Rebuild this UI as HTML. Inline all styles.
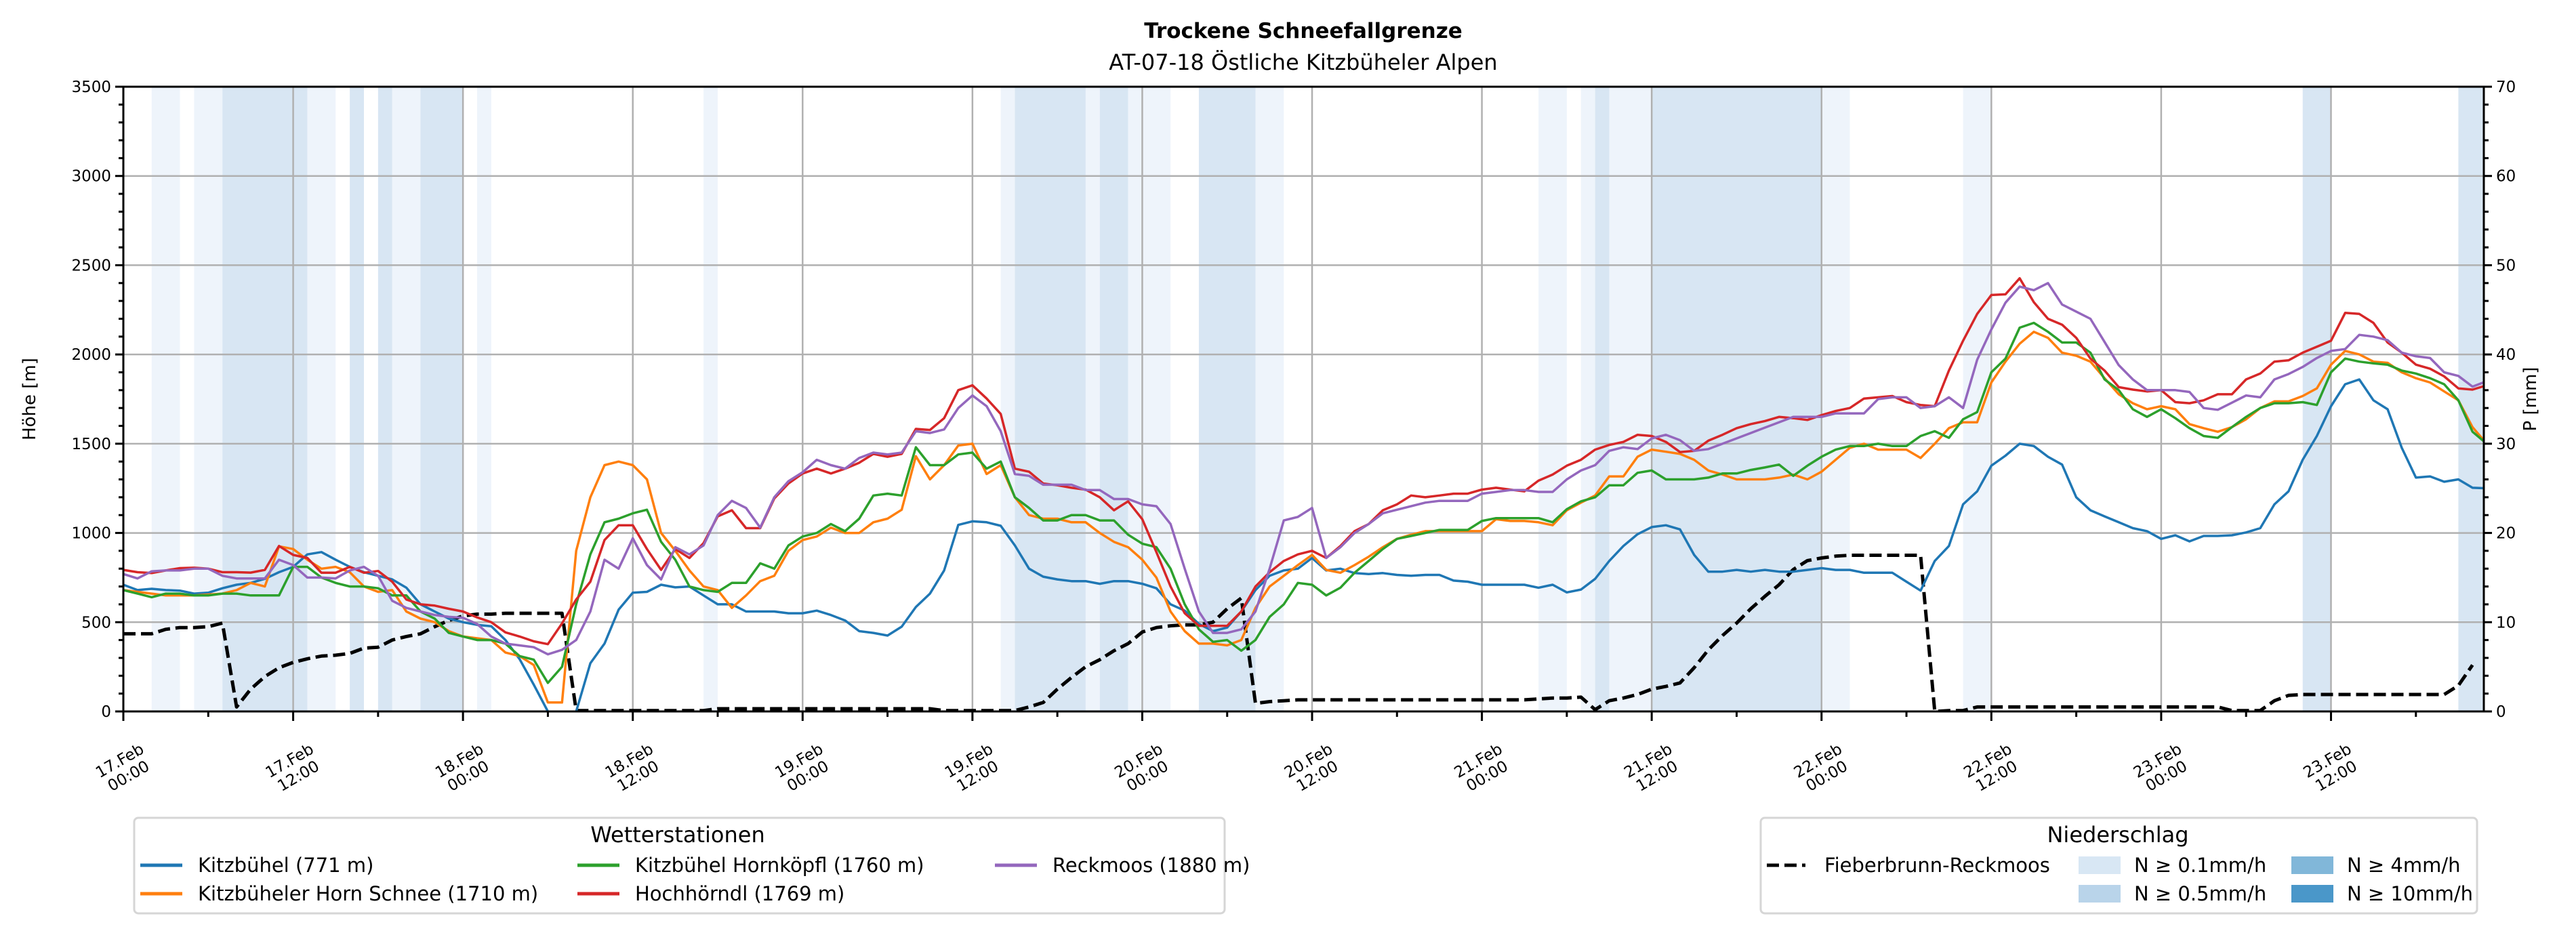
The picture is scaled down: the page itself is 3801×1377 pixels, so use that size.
<!DOCTYPE html>
<html><head><meta charset="utf-8">
<style>
html,body{margin:0;padding:0;background:#fff;}
svg{display:block;font-family:"DejaVu Sans","Liberation Sans",sans-serif;}
</style></head>
<body>
<svg id="chart" width="3801" height="1377" viewBox="0 0 3801 1377" xmlns="http://www.w3.org/2000/svg">
<text x="1923" y="56" font-size="31" font-weight="bold" text-anchor="middle">Trockene Schneefallgrenze</text>
<text x="1923" y="103" font-size="32" text-anchor="middle">AT-07-18 Östliche Kitzbüheler Alpen</text>
<g id="bands"></g>
<g id="grid"></g>
<g id="series"></g>
<g id="axes"></g>
<text transform="translate(52,589) rotate(-90)" font-size="26" text-anchor="middle">Höhe [m]</text>
<text transform="translate(3742,589) rotate(-90)" font-size="26" text-anchor="middle">P [mm]</text>

<g>
<rect x="198" y="1207" width="1609" height="141" rx="6" fill="#fff" stroke="#d6d6d6" stroke-width="3"/>
<text x="1000" y="1243" font-size="32" text-anchor="middle">Wetterstationen</text>
<g><line x1="207" y1="1277" x2="269" y2="1277" stroke="#1f77b4" stroke-width="5"/><text x="292" y="1287" font-size="29">Kitzbühel (771 m)</text></g>
<g><line x1="207" y1="1319" x2="269" y2="1319" stroke="#ff7f0e" stroke-width="5"/><text x="292" y="1329" font-size="29">Kitzbüheler Horn Schnee (1710 m)</text></g>
<g><line x1="852" y1="1277" x2="914" y2="1277" stroke="#2ca02c" stroke-width="5"/><text x="937" y="1287" font-size="29">Kitzbühel Hornköpfl (1760 m)</text></g>
<g><line x1="852" y1="1319" x2="914" y2="1319" stroke="#d62728" stroke-width="5"/><text x="937" y="1329" font-size="29">Hochhörndl (1769 m)</text></g>
<g><line x1="1468" y1="1277" x2="1530" y2="1277" stroke="#9467bd" stroke-width="5"/><text x="1553" y="1287" font-size="29">Reckmoos (1880 m)</text></g>
</g>

<g>
<rect x="2598" y="1207" width="1057" height="141" rx="6" fill="#fff" stroke="#d6d6d6" stroke-width="3"/>
<text x="3125" y="1243" font-size="32" text-anchor="middle">Niederschlag</text>
<g><line x1="2607" y1="1277" x2="2664" y2="1277" stroke="#000" stroke-width="5" stroke-dasharray="18,8"/><text x="2692" y="1287" font-size="29">Fieberbrunn-Reckmoos</text></g>
<g><rect x="3067" y="1264" width="62" height="26" fill="#d8e7f4"/><text x="3149" y="1287" font-size="29">N ≥ 0.1mm/h</text></g>
<g><rect x="3067" y="1306" width="62" height="26" fill="#b9d4ea"/><text x="3149" y="1329" font-size="29">N ≥ 0.5mm/h</text></g>
<g><rect x="3381" y="1264" width="62" height="26" fill="#81b7d9"/><text x="3463" y="1287" font-size="29">N ≥ 4mm/h</text></g>
<g><rect x="3381" y="1306" width="62" height="26" fill="#4a97c9"/><text x="3463" y="1329" font-size="29">N ≥ 10mm/h</text></g>
</g>
</svg>
<script>
const kitzbuehel=[710,680,687,680,677,660,665,690,710,720,743,780,810,880,893,850,810,780,760,740,693,600,560,520,500,485,477,400,293,150,0,null,0,270,380,570,665,670,710,695,700,650,600,600,560,560,560,550,550,565,540,510,450,440,425,475,585,660,790,1045,1065,1060,1040,930,800,755,740,730,730,715,730,730,715,690,600,565,490,450,470,560,680,760,790,800,860,790,800,775,770,775,765,760,765,765,733,727,710,710,710,710,693,710,667,683,743,843,927,993,1033,1043,1020,877,783,783,793,783,793,783,783,793,803,793,793,777,777,777,727,677,843,927,1160,1233,1377,1433,1500,1487,1427,1383,1200,1127,1093,1060,1027,1010,967,987,953,983,983,987,1003,1027,1160,1233,1410,1543,1710,1833,1860,1743,1693,1477,1310,1317,1287,1300,1253,1250];
const hornSchnee=[680,670,660,650,650,650,655,660,680,720,700,925,910,850,800,810,780,700,670,680,560,520,500,450,420,410,400,330,310,260,50,50,900,1200,1380,1400,1380,1300,1000,900,790,700,680,580,650,730,760,900,960,980,1030,1000,1000,1060,1080,1130,1430,1300,1380,1490,1500,1330,1380,1200,1100,1080,1080,1060,1060,1000,950,920,850,750,560,450,380,380,370,400,580,700,760,820,877,793,777,820,867,920,967,990,1010,1010,1010,1010,1010,1077,1067,1067,1060,1043,1127,1170,1210,1317,1317,1427,1467,1455,1443,1410,1350,1327,1300,1300,1300,1310,1327,1300,1343,1410,1477,1500,1467,1467,1467,1420,1500,1587,1620,1620,1843,1960,2060,2127,2093,2010,1993,1960,1867,1777,1727,1693,1710,1693,1610,1587,1567,1593,1637,1700,1737,1737,1767,1810,1943,2020,2000,1960,1953,1900,1867,1843,1793,1743,1593,1500];
const hornkoepfl=[680,660,640,660,660,650,650,660,660,650,650,650,810,810,750,720,700,700,690,650,650,560,520,440,420,400,400,380,310,290,160,250,600,880,1060,1080,1110,1130,950,850,700,680,670,720,720,830,800,930,980,1000,1050,1010,1080,1210,1220,1210,1480,1380,1380,1440,1450,1360,1400,1200,1140,1070,1070,1100,1100,1070,1070,990,940,920,800,600,460,390,400,340,400,530,600,720,710,650,693,777,843,910,967,983,1000,1017,1017,1017,1067,1083,1083,1083,1083,1060,1133,1177,1200,1267,1267,1337,1350,1300,1300,1300,1310,1333,1333,1353,1367,1383,1320,1377,1427,1467,1487,1487,1500,1487,1487,1543,1570,1533,1637,1677,1900,1977,2150,2177,2127,2067,2067,2010,1860,1800,1693,1650,1693,1643,1587,1543,1533,1593,1650,1700,1727,1727,1733,1717,1900,1977,1960,1950,1943,1910,1893,1867,1833,1743,1567,1500];
const hochhoerndl=[793,780,775,790,803,805,800,780,780,778,793,927,877,860,777,777,810,777,787,727,627,600,593,575,560,527,500,443,420,393,377,493,627,727,960,1043,1043,910,793,910,860,943,1093,1127,1027,1027,1193,1277,1333,1360,1333,1360,1393,1443,1427,1443,1583,1577,1643,1800,1827,1753,1667,1360,1343,1277,1267,1253,1243,1200,1127,1177,1077,893,700,550,480,480,480,560,700,780,843,880,900,860,927,1010,1050,1127,1160,1210,1200,1210,1220,1220,1243,1253,1243,1233,1293,1327,1377,1410,1467,1493,1510,1550,1543,1510,1453,1460,1517,1550,1587,1610,1627,1650,1643,1633,1660,1683,1700,1753,1760,1767,1733,1717,1710,1910,2077,2227,2333,2337,2427,2293,2200,2167,2093,1977,1910,1817,1803,1793,1800,1733,1727,1743,1777,1777,1860,1893,1960,1967,2010,2043,2077,2233,2227,2177,2067,2010,1943,1920,1877,1810,1803,1827];
const reckmoos=[770,745,785,790,790,800,800,760,745,745,745,850,820,750,750,745,790,810,760,620,580,560,540,530,525,490,420,380,370,360,320,345,400,560,850,800,970,820,740,920,880,930,1100,1180,1140,1030,1200,1290,1340,1410,1380,1360,1420,1450,1440,1450,1570,1560,1580,1700,1770,1710,1570,1330,1320,1270,1270,1270,1240,1240,1190,1190,1160,1150,1050,800,560,440,440,460,560,800,1070,1090,1140,860,920,1000,1050,1110,1130,1150,1170,1180,1180,1180,1220,1230,1240,1240,1230,1230,1300,1350,1380,1460,1480,1470,1530,1550,1520,1460,1470,1500,1530,1560,1590,1620,1650,1650,1650,1670,1670,1670,1750,1760,1760,1700,1710,1760,1700,1970,2140,2290,2380,2360,2400,2280,2240,2200,2070,1940,1860,1800,1800,1800,1790,1700,1690,1730,1770,1760,1860,1890,1930,1980,2020,2030,2110,2100,2080,2010,1990,1980,1900,1880,1820,1850];
const precipMM=[8.7,8.7,8.7,9.2,9.4,9.4,9.5,9.9,0.5,2.5,3.9,4.9,5.5,5.9,6.2,6.3,6.5,7.1,7.2,8,8.4,8.7,9.5,10.2,10.7,10.9,10.9,11,11,11,11,11,0.1,0.1,0.1,0.1,0.1,0.1,0.1,0.1,0.1,0.1,0.3,0.3,0.3,0.3,0.3,0.3,0.3,0.3,0.3,0.3,0.3,0.3,0.3,0.3,0.3,0.3,0.1,0.1,0.1,0.1,0.1,0.1,0.5,1.0,2.5,3.8,5.0,5.8,6.8,7.6,8.9,9.4,9.6,9.7,9.7,10.0,11.5,12.7,0.9,1.1,1.2,1.3,1.3,1.3,1.3,1.3,1.3,1.3,1.3,1.3,1.3,1.3,1.3,1.3,1.3,1.3,1.3,1.3,1.4,1.5,1.5,1.6,0.2,1.2,1.5,1.9,2.5,2.8,3.2,4.9,6.9,8.5,9.9,11.5,12.9,14.2,15.9,16.9,17.2,17.4,17.5,17.5,17.5,17.5,17.5,17.5,0,0.1,0.1,0.5,0.5,0.5,0.5,0.5,0.5,0.5,0.5,0.5,0.5,0.5,0.5,0.5,0.5,0.5,0.5,0.5,0.5,0.1,0.1,0.1,1.2,1.8,1.9,1.9,1.9,1.9,1.9,1.9,1.9,1.9,1.9,1.9,1.9,2.9,5.2];
const bandStart=[2,5,7,13,16,18,19,21,25,41,62,63,68,69,71,76,80,100,103,104,105,108,120,130,154,165];
const bandEnd=[4,7,13,15,17,19,21,24,26,42,63,68,69,71,74,80,82,102,104,105,108,120,122,132,156,167];
const bandLevel=[1,1,2,1,2,2,1,2,1,1,1,2,1,2,1,2,1,1,1,2,1,2,1,1,2,2];
const xTickDays=["17.Feb","17.Feb","18.Feb","18.Feb","19.Feb","19.Feb","20.Feb","20.Feb","21.Feb","21.Feb","22.Feb","22.Feb","23.Feb","23.Feb"];
const xTickTimes=["00:00","12:00","00:00","12:00","00:00","12:00","00:00","12:00","00:00","12:00","00:00","12:00","00:00","12:00"];
const yTicks=[0,500,1000,1500,2000,2500,3000,3500];
const y2Ticks=[0,10,20,30,40,50,60,70];

const NS="http://www.w3.org/2000/svg";
const L=182,R=3665,T=128,B=1050,XMAX=166.8,YMAX=3500,PMAX=70;
const xs=h=>L+(R-L)*h/XMAX;
const ys=v=>B-(B-T)*v/YMAX;
const yp=p=>B-(B-T)*p/PMAX;
function mk(tag,attrs,parent){const e=document.createElementNS(NS,tag);for(const k in attrs)e.setAttribute(k,attrs[k]);parent.appendChild(e);return e;}
const gB=document.getElementById('bands'),gG=document.getElementById('grid'),gS=document.getElementById('series'),gA=document.getElementById('axes');
const bandColors={1:"#eef4fb",2:"#d8e6f3"};
for(let i=0;i<bandStart.length;i++){
  const x1=xs(bandStart[i]),x2=Math.min(xs(bandEnd[i]),R);
  const r=mk('rect',{x:x1,y:T,width:x2-x1,height:B-T,fill:bandColors[bandLevel[i]]},gB);
  
  
}
for(let i=0;i<xTickDays.length;i++){
  const x=xs(i*12);
  const l=mk('line',{x1:x,y1:T,x2:x,y2:B,stroke:"#b0b0b0","stroke-width":2.5},gG);
  
  
}
yTicks.forEach(v=>{
  const y=ys(v);
  const l=mk('line',{x1:L,y1:y,x2:R,y2:y,stroke:"#b0b0b0","stroke-width":2.5},gG);
  
  
});
function drawLine(vals,color,name,dash,scale){
  let d="",pen=false;
  vals.forEach((v,i)=>{
    if(v===null){pen=false;return;}
    const x=xs(i),y=scale(v);
    d+=(pen?"L":"M")+x.toFixed(1)+","+y.toFixed(1);pen=true;
  });
  const p=mk('path',{d:d,fill:"none",stroke:color,"stroke-width":dash?5:3.5,"stroke-linejoin":"round"},gS);
  if(dash)p.setAttribute('stroke-dasharray',dash);
  
  
}
const clip=mk('clipPath',{id:'plotclip'},document.getElementById('chart'));
mk('rect',{x:L,y:T-5,width:R-L,height:B-T+5},clip);
gS.setAttribute('clip-path','url(#plotclip)');
gB.setAttribute('clip-path','url(#plotclip)');
drawLine(precipMM,"#000","precip-line-fieberbrunn","18,8",yp);
drawLine(kitzbuehel,"#1f77b4","line-kitzbuehel",null,ys);
drawLine(hornSchnee,"#ff7f0e","line-horn-schnee",null,ys);
drawLine(hornkoepfl,"#2ca02c","line-hornkoepfl",null,ys);
drawLine(hochhoerndl,"#d62728","line-hochhoerndl",null,ys);
drawLine(reckmoos,"#9467bd","line-reckmoos",null,ys);
mk('rect',{x:L,y:T,width:R-L,height:B-T,fill:"none",stroke:"#000","stroke-width":3},gA);
for(let h=0;h<=XMAX;h+=6){
  const x=xs(h),major=h%12===0;
  mk('line',{x1:x,y1:B,x2:x,y2:B+(major?14:8),stroke:"#000","stroke-width":3},gA);
}
for(let i=0;i<xTickDays.length;i++){
  const x=xs(i*12);
  const g=mk('g',{transform:`translate(${x},1132) rotate(-30)`},gA);
  
  
  mk('text',{x:0,y:-3,"font-size":23,"text-anchor":"middle"},g).textContent=xTickDays[i];
  mk('text',{x:0,y:23,"font-size":23,"text-anchor":"middle"},g).textContent=xTickTimes[i];
}
for(let v=0;v<=YMAX;v+=100){
  const y=ys(v),major=v%500===0;
  mk('line',{x1:L,y1:y,x2:L-(major?12:7),y2:y,stroke:"#000","stroke-width":3},gA);
}
yTicks.forEach(v=>{
  const t=mk('text',{x:L-18,y:ys(v)+8,"font-size":23,"text-anchor":"end"},gA);
  t.textContent=v;
  
  
});
for(let p=0;p<=PMAX;p+=2){
  const y=yp(p),major=p%10===0;
  mk('line',{x1:R,y1:y,x2:R+(major?12:7),y2:y,stroke:"#000","stroke-width":3},gA);
}
y2Ticks.forEach(p=>{
  const t=mk('text',{x:R+18,y:yp(p)+8,"font-size":23,"text-anchor":"start"},gA);
  t.textContent=p;
  
  
});
</script>
</body></html>
